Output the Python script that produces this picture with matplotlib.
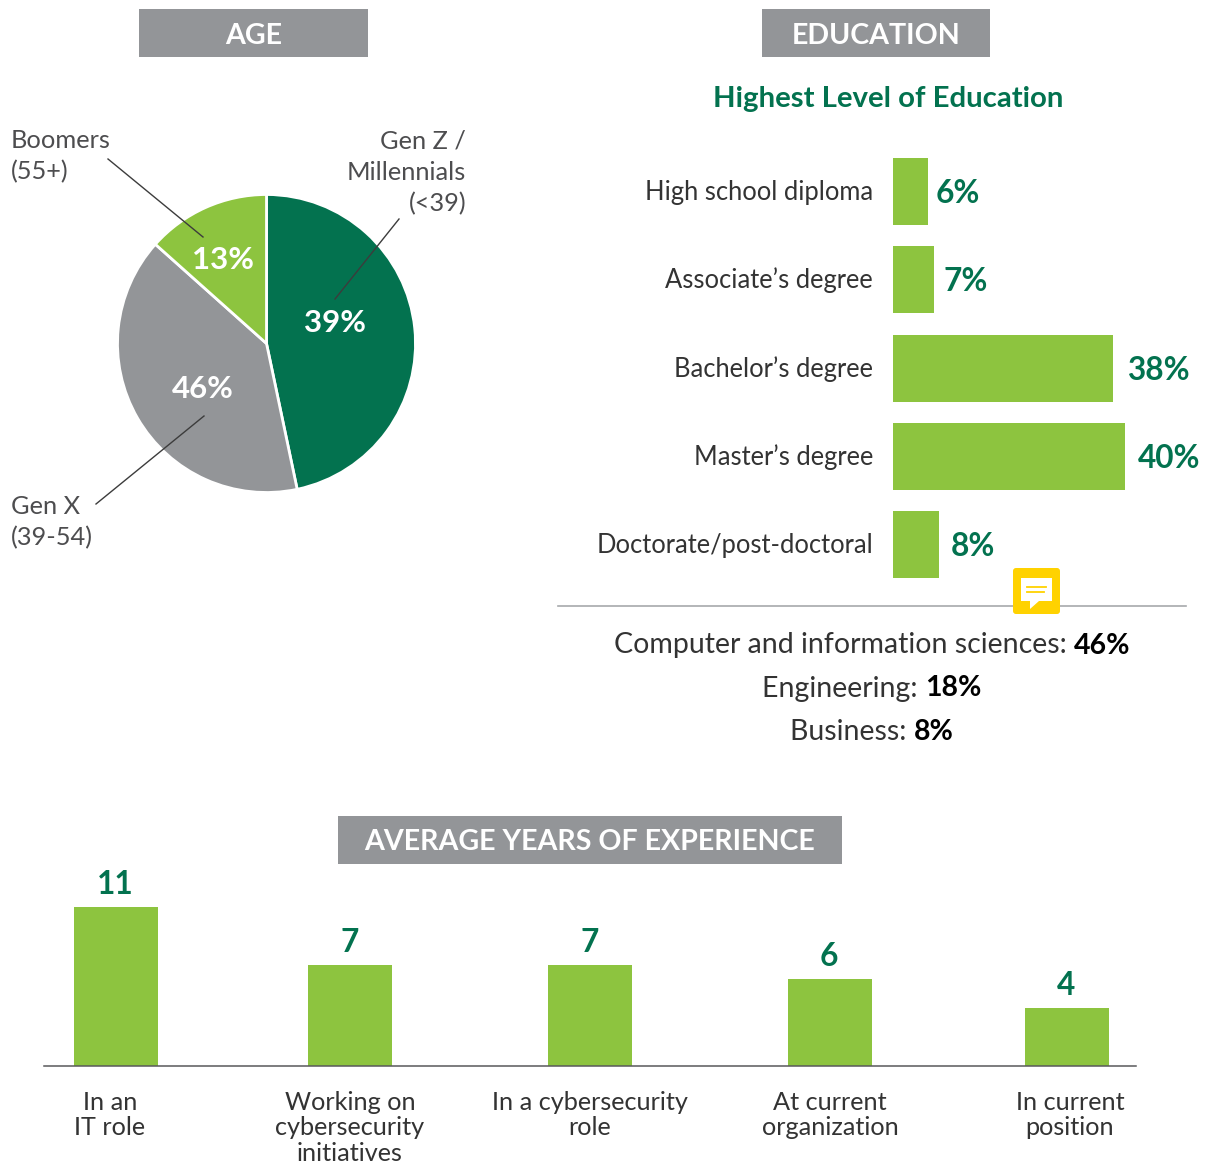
import matplotlib
matplotlib.use("Agg")
import matplotlib.pyplot as plt
from matplotlib.patches import FancyBboxPatch, Polygon, Rectangle

plt.rcParams['font.family'] = ['Lato', 'DejaVu Sans']

W, H = 1209, 1163
DARK = '#03724F'
LIGHT = '#8DC43F'
GRAY = '#939598'
TXT = '#4D4D4F'

# --- data ---
age_groups = ['Gen Z / Millennials (<39)', 'Gen X (39-54)', 'Boomers (55+)']
age_slice_shares = [46.7, 39.9, 13.4]   # angular shares as drawn in the picture
age_printed_labels = ['39%', '46%', '13%']

edu_levels = ['High school diploma', 'Associate\u2019s degree', 'Bachelor\u2019s degree',
              'Master\u2019s degree', 'Doctorate/post-doctoral']
edu_values = [6, 7, 38, 40, 8]

field_names = ['Computer and information sciences: ', 'Engineering: ', 'Business: ']
field_values = ['46%', '18%', '8%']

exp_labels = ['In an\nIT role', 'Working on\ncybersecurity\ninitiatives',
              'In a cybersecurity\nrole', 'At current\norganization', 'In current\nposition']
exp_values = [11, 7, 7, 6, 4]

# --- layout ---
exp_centers_px = [116, 350, 590, 830, 1067]
exp_label_centers_px = [110, 350, 590, 830, 1070]
edu_centers_px = [191.5, 279.5, 368.5, 456.5, 544.5]
edu_value_gaps_px = [8, 10, 14, 13, 11]

fig = plt.figure(figsize=(W / 100, H / 100), dpi=100, facecolor='white')


def px_axes(x0, y0, x1, y1, **kw):
    a = fig.add_axes([x0 / W, 1 - y1 / H, (x1 - x0) / W, (y1 - y0) / H], **kw)
    a.patch.set_alpha(0)
    return a


# overlay in pixel coordinates for annotations and header boxes
ov = px_axes(0, 0, W, H, zorder=5)
ov.set_xlim(0, W)
ov.set_ylim(H, 0)
ov.axis('off')


def header(x0, x1, y0, y1, text):
    ov.add_patch(Rectangle((x0, y0), x1 - x0, y1 - y0, fc=GRAY, ec='none'))
    ov.text((x0 + x1) / 2, (y0 + y1) / 2 + 2.5, text, color='white', fontsize=20.6,
            fontweight='bold', ha='center', va='center')


header(139, 368, 9, 57, 'AGE')
header(762, 990, 9, 57, 'EDUCATION')
header(338, 842, 816, 864, 'AVERAGE YEARS OF EXPERIENCE')

# --- pie ---
pie_ax = px_axes(266.5 - 155, 343.5 - 155, 266.5 + 155, 343.5 + 155)
pie_ax.pie(age_slice_shares, colors=[DARK, GRAY, LIGHT], startangle=90, counterclock=False,
           radius=149 / 155, wedgeprops=dict(edgecolor='white', linewidth=2.0))
pie_ax.set_xlim(-1, 1)
pie_ax.set_ylim(-1, 1)

for (x, y), s in zip([(335, 323), (203, 389), (223, 260)], age_printed_labels):
    ov.text(x, y, s, color='white', fontsize=22.5, fontweight='bold', ha='center', va='center')

for x0, y0, x1, y1 in [(108, 159, 203, 237), (399, 219, 335, 299), (96, 504, 204, 416)]:
    ov.plot([x0, x1], [y0, y1], color='#3C3C3C', lw=1)

for x, y, ha, s in [(11, 141, 'left', 'Boomers'), (11, 172, 'left', '(55+)'),
                    (466, 141, 'right', 'Gen Z /'), (466, 172, 'right', 'Millennials'),
                    (466, 204, 'right', '(<39)'), (11, 507, 'left', 'Gen X'),
                    (11, 538, 'left', '(39-54)')]:
    ov.text(x, y, s, color=TXT, fontsize=18.3, ha=ha, va='center')

# --- education bars ---
ov.text(888, 99, 'Highest Level of Education', color=DARK, fontsize=21.2, fontweight='bold',
        ha='center', va='center')

edu_ax = px_axes(893, 140, 1209, 600)
edu_ax.set_xlim(0, 316 / 5.8)
edu_ax.set_ylim(600, 140)
edu_ax.barh(edu_centers_px, edu_values, height=67, color=LIGHT)
edu_ax.axis('off')
for c, name, v, gap in zip(edu_centers_px, edu_levels, edu_values, edu_value_gaps_px):
    ov.text(873, c + 1, name, color='#333333', fontsize=18.4, ha='right', va='center')
    edu_ax.annotate(f'{v}%', (v, c), xytext=(gap * 0.72, -1.5), textcoords='offset points',
                    color=DARK, fontsize=22.8, fontweight='bold', ha='left', va='center')

ov.plot([558, 1186], [606, 606], color='#A7A9AC', lw=1.2)

# comment icon
ov.add_patch(FancyBboxPatch((1013, 568), 47, 46, boxstyle='round,pad=0,rounding_size=3',
                            fc='#FFD200', ec='none', zorder=6))
ov.add_patch(Polygon([(1021, 578), (1052, 578), (1052, 601), (1039, 601), (1030, 609),
                      (1030, 601), (1021, 601)], fc='white', ec='none', zorder=7))
ov.plot([1027, 1046], [587, 587], color='#FFD200', lw=1.3, zorder=8)
ov.plot([1027, 1044], [592, 592], color='#FFD200', lw=1.3, zorder=8)

# field lines with mixed weights
renderer = fig.canvas.get_renderer()
for (cx, y), name, val in zip([(872, 643), (872, 686), (872, 729)], field_names, field_values):
    t1 = ov.text(0, y, name, color='#333333', fontsize=20.5, ha='left', va='center_baseline')
    t2 = ov.text(0, y, val, color='black', fontsize=20.5, fontweight='bold', ha='left',
                 va='center_baseline')
    # trailing space width is kept by measuring a marker-terminated string
    probe = ov.text(0, y, name + '.', fontsize=20.5)
    dot = ov.text(0, y, '.', fontsize=20.5)
    w1 = probe.get_window_extent(renderer).width - dot.get_window_extent(renderer).width
    probe.remove()
    dot.remove()
    w2 = t2.get_window_extent(renderer).width
    left = cx - (w1 + w2) / 2
    t1.set_x(left)
    t2.set_x(left + w1)

# --- experience bars ---
exp_ax = px_axes(44, 880, 1136, 1065.5)
exp_ax.set_xlim(44, 1136)
exp_ax.set_ylim(0, 185.5 / 14.4)
exp_ax.bar(exp_centers_px, exp_values, width=84, color=LIGHT)
for s in ['top', 'left', 'right']:
    exp_ax.spines[s].set_visible(False)
exp_ax.spines['bottom'].set_color('#58595B')
exp_ax.spines['bottom'].set_linewidth(1.1)
exp_ax.set_yticks([])
exp_ax.set_xticks([])
for c, v in zip(exp_centers_px, exp_values):
    exp_ax.annotate(str(v), (c, v), xytext=(-0.5, 5.5), textcoords='offset points', color=DARK,
                    fontsize=22.8, fontweight='bold', ha='center', va='bottom')
for c, lab in zip(exp_label_centers_px, exp_labels):
    for i, line in enumerate(lab.split('\n')):
        ov.text(c, 1100 + i * 25.6, line, color='#333333', fontsize=18.2, ha='center',
                va='center_baseline')

fig.savefig('out.png', dpi=100, facecolor='white')
